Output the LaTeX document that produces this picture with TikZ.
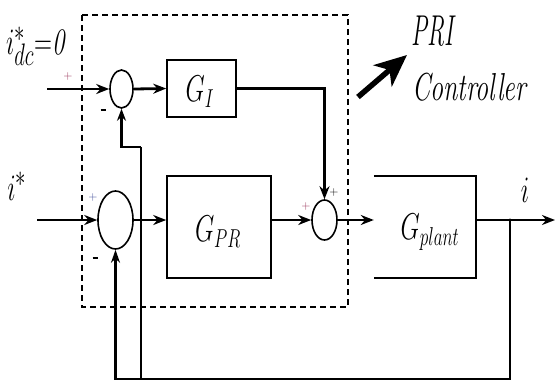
\documentclass[tikz,border=0pt]{standalone}
\usepackage{graphicx}
\usetikzlibrary{shapes.geometric,arrows.meta}
\begin{document}
\begin{tikzpicture}[x=1pt,y=-1pt,
  sig/.style={line width=2.8pt,-{Stealth[length=13pt,width=10pt]}},
  fb/.style={line width=2.8pt},
  fbthin/.style={line width=1.5pt},
  sumnode/.style={draw,ellipse,line width=1.6pt,inner sep=0pt},
  blk/.style={draw,line width=1.6pt,inner sep=0pt},
  lbl/.style={inner sep=0pt},
  sgn/.style={inner sep=0pt,font=\fontsize{12}{12}\selectfont},
  dashbox/.style={line width=1.3pt,dash pattern=on 6pt off 4pt}]
\useasboundingbox (0,0) rectangle (555,381);
\fill[white] (0,0) rectangle (555,381);
\definecolor{plusred}{rgb}{0.6,0.2,0.35}
\definecolor{plusblue}{rgb}{0.25,0.3,0.6}

% dashed controller frame
\draw[dashbox] (82,15) rectangle (348,307);

% summing junctions
\node[sumnode,minimum width=23pt,minimum height=38pt] (s1) at (121.5,89) {};
\node[sumnode,minimum width=35pt,minimum height=58pt] (s2) at (115.5,220) {};
\node[sumnode,minimum width=25pt,minimum height=40pt] (s3) at (324.5,220) {};

% blocks
\node[blk,minimum width=69pt,minimum height=57pt] (gi) at (201.5,88.5) {};
\node[blk,minimum width=104pt,minimum height=102pt] (gpr) at (219,227) {};
\node[inner sep=0pt,minimum width=102pt,minimum height=102pt] (gp) at (425,227) {};
\draw[line width=1.6pt] (gp.north west) -- (gp.north east) -- (gp.south east) -- (gp.south west);

% block texts
\node[lbl] (tgi) at (200,92) {\scalebox{1}[1.5]{\fontsize{24}{24}\selectfont$G_I$}};
\node[lbl] (tgpr) at (218,232) {\scalebox{1}[1.5]{\fontsize{24}{24}\selectfont$G_{PR}$}};
\node[lbl] (tgp) at (430,232) {\scalebox{1}[1.5]{\fontsize{24}{24}\selectfont$G_{plant}$}};

% coordinates
\coordinate (in1) at (47,89);
\coordinate (in2) at (37,220);
\coordinate (j) at (510,220);
\coordinate (out) at (555,220);
\coordinate (b1) at (510,379);
\coordinate (b2) at (141,379);
\coordinate (k1) at (141,147);

% forward paths
\draw[sig] (in1) -- (s1.west);
\draw[sig] (s1.east) -- (gi.west);
\draw[sig] (gi.east) -| (s3.north);
\draw[sig] (in2) -- (s2.west);
\draw[sig] (s2.east) -- (gpr.west |- s2.east);
\draw[sig] (gpr.east |- s3.west) -- (s3.west);
\draw[sig] (s3.east) -- (gp.west |- s3.east);
\draw[sig] (gp.east |- s3.east) -- (out);

% feedback
\draw[fb,-{Stealth[length=13pt,width=9pt]}] (j) -- (b1) -| (s2.south);
\draw[fbthin] (b2) -- (k1);
\draw[fb,-{Stealth[length=12pt,width=9pt]}] (k1) -| (s1.south);
\fill (j) circle (1.7pt);

% signal labels
\node[lbl] (lin1) at (37,46) {\scalebox{1}[1.5]{\fontsize{28}{28}\selectfont$i^{*}_{dc}{=}\mathit{0}$}};
\node[lbl] (lin2) at (17,186) {\scalebox{1}[1.5]{\fontsize{28}{28}\selectfont$i^{*}$}};
\node[lbl] (lout) at (525,190) {\scalebox{1}[1.5]{\fontsize{28}{28}\selectfont$i$}};

% signs
\node[sgn,text=plusred] (p1) at (68,77) {+};
\node[sgn] (m1) at (103,110) {\rule{5pt}{1.3pt}};
\node[sgn,text=plusblue] (p2) at (93,198) {+};
\node[sgn] (m2) at (95,258) {\rule{5pt}{1.3pt}};
\node[sgn,text=plusred] (p3) at (306,207) {+};
\node[sgn] (p4) at (334,193) {+};

% PRI Controller annotation
\coordinate (at1) at (358,97);
\coordinate (at2) at (407,55);
\draw[line width=5.5pt,-{Stealth[length=32pt,width=28pt,inset=9pt]}] (at1) -- (at2);
\node[lbl] (pri) at (434,31) {\scalebox{1}[1.8]{\fontsize{24}{24}\selectfont\textit{PRI}}};
\node[lbl] (ctl) at (470,87) {\scalebox{1}[1.5]{\fontsize{26}{26}\selectfont\textit{Controller}}};
\end{tikzpicture}
\end{document}
